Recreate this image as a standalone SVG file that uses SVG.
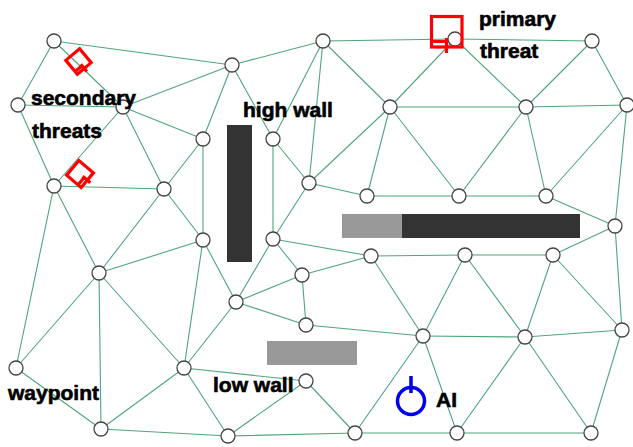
<svg xmlns="http://www.w3.org/2000/svg" width="633" height="447" viewBox="0 0 633 447">
  <style>
    .edge { stroke: #4fa67c; stroke-width: 1.1; fill: none; stroke-linecap: round; }
    .node circle { fill: #ffffff; stroke: #444444; stroke-width: 1.3; }
    .label { font-family: "Liberation Sans", Arial, sans-serif; font-weight: bold; font-size: 21px; fill: #000000; stroke: #000000; stroke-width: 0.6; }
    .high { fill: #333333; }
    .low { fill: #999999; }
    .threat { fill: none; stroke: #ff0000; stroke-width: 3.2; }
    .agent { fill: none; stroke: #0000ee; stroke-width: 3.5; }
  </style>

  <rect x="0" y="0" width="633" height="447" fill="#ffffff"/>

  <!-- navigation mesh links -->
  <g id="connectors" class="edge">
    <line x1="54" y1="41" x2="18" y2="105"/>
    <line x1="54" y1="41" x2="123" y2="107"/>
    <line x1="54" y1="41" x2="232" y2="65"/>
    <line x1="18" y1="105" x2="123" y2="107"/>
    <line x1="18" y1="105" x2="54" y2="186"/>
    <line x1="123" y1="107" x2="232" y2="65"/>
    <line x1="123" y1="107" x2="203" y2="139"/>
    <line x1="123" y1="107" x2="54" y2="186"/>
    <line x1="123" y1="107" x2="164" y2="189"/>
    <line x1="54" y1="186" x2="164" y2="189"/>
    <line x1="54" y1="186" x2="16" y2="368"/>
    <line x1="54" y1="186" x2="99" y2="273"/>
    <line x1="164" y1="189" x2="203" y2="139"/>
    <line x1="164" y1="189" x2="99" y2="273"/>
    <line x1="164" y1="189" x2="203" y2="240"/>
    <line x1="203" y1="139" x2="232" y2="65"/>
    <line x1="203" y1="139" x2="203" y2="240"/>
    <line x1="232" y1="65" x2="323" y2="41"/>
    <line x1="232" y1="65" x2="273" y2="139"/>
    <line x1="323" y1="41" x2="273" y2="139"/>
    <line x1="323" y1="41" x2="309" y2="183"/>
    <line x1="323" y1="41" x2="390" y2="107"/>
    <line x1="323" y1="41" x2="455" y2="39"/>
    <line x1="455" y1="39" x2="390" y2="107"/>
    <line x1="455" y1="39" x2="592" y2="41"/>
    <line x1="455" y1="39" x2="526" y2="107"/>
    <line x1="592" y1="41" x2="526" y2="107"/>
    <line x1="592" y1="41" x2="627" y2="105"/>
    <line x1="390" y1="107" x2="526" y2="107"/>
    <line x1="390" y1="107" x2="309" y2="183"/>
    <line x1="390" y1="107" x2="367" y2="196"/>
    <line x1="390" y1="107" x2="459" y2="196"/>
    <line x1="526" y1="107" x2="627" y2="105"/>
    <line x1="526" y1="107" x2="459" y2="196"/>
    <line x1="526" y1="107" x2="546" y2="196"/>
    <line x1="627" y1="105" x2="546" y2="196"/>
    <line x1="627" y1="105" x2="615" y2="226"/>
    <line x1="273" y1="139" x2="309" y2="183"/>
    <line x1="273" y1="139" x2="273" y2="239"/>
    <line x1="309" y1="183" x2="367" y2="196"/>
    <line x1="309" y1="183" x2="273" y2="239"/>
    <line x1="367" y1="196" x2="459" y2="196"/>
    <line x1="459" y1="196" x2="546" y2="196"/>
    <line x1="546" y1="196" x2="615" y2="226"/>
    <line x1="615" y1="226" x2="553" y2="255"/>
    <line x1="615" y1="226" x2="622" y2="330"/>
    <line x1="203" y1="240" x2="236" y2="302"/>
    <line x1="203" y1="240" x2="99" y2="273"/>
    <line x1="203" y1="240" x2="184" y2="368"/>
    <line x1="273" y1="239" x2="236" y2="302"/>
    <line x1="273" y1="239" x2="371" y2="256"/>
    <line x1="273" y1="239" x2="302" y2="275"/>
    <line x1="371" y1="256" x2="302" y2="275"/>
    <line x1="371" y1="256" x2="423" y2="336"/>
    <line x1="371" y1="256" x2="465" y2="255"/>
    <line x1="465" y1="255" x2="553" y2="255"/>
    <line x1="465" y1="255" x2="423" y2="336"/>
    <line x1="465" y1="255" x2="525" y2="337"/>
    <line x1="553" y1="255" x2="525" y2="337"/>
    <line x1="553" y1="255" x2="622" y2="330"/>
    <line x1="302" y1="275" x2="236" y2="302"/>
    <line x1="302" y1="275" x2="306" y2="325"/>
    <line x1="99" y1="273" x2="16" y2="368"/>
    <line x1="99" y1="273" x2="184" y2="368"/>
    <line x1="99" y1="273" x2="101" y2="429"/>
    <line x1="236" y1="302" x2="306" y2="325"/>
    <line x1="236" y1="302" x2="184" y2="368"/>
    <line x1="306" y1="325" x2="423" y2="336"/>
    <line x1="16" y1="368" x2="101" y2="429"/>
    <line x1="184" y1="368" x2="101" y2="429"/>
    <line x1="184" y1="368" x2="306" y2="381"/>
    <line x1="184" y1="368" x2="228" y2="436"/>
    <line x1="423" y1="336" x2="525" y2="337"/>
    <line x1="423" y1="336" x2="457" y2="433"/>
    <line x1="423" y1="336" x2="355" y2="433"/>
    <line x1="525" y1="337" x2="622" y2="330"/>
    <line x1="525" y1="337" x2="457" y2="433"/>
    <line x1="525" y1="337" x2="591" y2="433"/>
    <line x1="622" y1="330" x2="591" y2="433"/>
    <line x1="306" y1="381" x2="228" y2="436"/>
    <line x1="306" y1="381" x2="355" y2="433"/>
    <line x1="101" y1="429" x2="228" y2="436"/>
    <line x1="228" y1="436" x2="355" y2="433"/>
    <line x1="355" y1="433" x2="457" y2="433"/>
    <line x1="457" y1="433" x2="591" y2="433"/>
  </g>

  <!-- walls -->
  <g id="high-wall-vertical"><rect class="high" x="227" y="125" width="25" height="137"/></g>
  <g id="long-wall">
    <rect class="low" x="342" y="214" width="60" height="24"/>
    <rect class="high" x="402" y="214" width="178" height="24"/>
  </g>
  <g id="low-wall"><rect class="low" x="267" y="341" width="90" height="24"/></g>

  <!-- waypoints -->
  <g id="n-a" class="node"><circle cx="54" cy="41" r="7"/></g>
  <g id="n-b" class="node"><circle cx="18" cy="105" r="7"/></g>
  <g id="n-c" class="node"><circle cx="123" cy="107" r="7"/></g>
  <g id="n-d" class="node"><circle cx="54" cy="186" r="7"/></g>
  <g id="n-e" class="node"><circle cx="164" cy="189" r="7"/></g>
  <g id="n-f" class="node"><circle cx="203" cy="139" r="7"/></g>
  <g id="n-g" class="node"><circle cx="232" cy="65" r="7"/></g>
  <g id="n-h" class="node"><circle cx="323" cy="41" r="7"/></g>
  <g id="n-i" class="node"><circle cx="455" cy="39" r="7"/></g>
  <g id="n-j" class="node"><circle cx="592" cy="41" r="7"/></g>
  <g id="n-k" class="node"><circle cx="390" cy="107" r="7"/></g>
  <g id="n-l" class="node"><circle cx="526" cy="107" r="7"/></g>
  <g id="n-m" class="node"><circle cx="627" cy="105" r="7"/></g>
  <g id="n-n" class="node"><circle cx="273" cy="139" r="7"/></g>
  <g id="n-o" class="node"><circle cx="309" cy="183" r="7"/></g>
  <g id="n-p" class="node"><circle cx="367" cy="196" r="7"/></g>
  <g id="n-q" class="node"><circle cx="459" cy="196" r="7"/></g>
  <g id="n-r" class="node"><circle cx="546" cy="196" r="7"/></g>
  <g id="n-s" class="node"><circle cx="615" cy="226" r="7"/></g>
  <g id="n-t" class="node"><circle cx="203" cy="240" r="7"/></g>
  <g id="n-u" class="node"><circle cx="273" cy="239" r="7"/></g>
  <g id="n-v" class="node"><circle cx="371" cy="256" r="7"/></g>
  <g id="n-w" class="node"><circle cx="465" cy="255" r="7"/></g>
  <g id="n-x" class="node"><circle cx="553" cy="255" r="7"/></g>
  <g id="n-y" class="node"><circle cx="302" cy="275" r="7"/></g>
  <g id="n-z" class="node"><circle cx="99" cy="273" r="7"/></g>
  <g id="n-aa" class="node"><circle cx="236" cy="302" r="7"/></g>
  <g id="n-ab" class="node"><circle cx="306" cy="325" r="7"/></g>
  <g id="n-ac" class="node"><circle cx="16" cy="368" r="7"/></g>
  <g id="n-ad" class="node"><circle cx="184" cy="368" r="7"/></g>
  <g id="n-ae" class="node"><circle cx="423" cy="336" r="7"/></g>
  <g id="n-af" class="node"><circle cx="525" cy="337" r="7"/></g>
  <g id="n-ag" class="node"><circle cx="622" cy="330" r="7"/></g>
  <g id="n-ah" class="node"><circle cx="306" cy="381" r="7"/></g>
  <g id="n-ai" class="node"><circle cx="101" cy="429" r="7"/></g>
  <g id="n-aj" class="node"><circle cx="228" cy="436" r="7"/></g>
  <g id="n-ak" class="node"><circle cx="355" cy="433" r="7"/></g>
  <g id="n-al" class="node"><circle cx="457" cy="433" r="7"/></g>
  <g id="n-am" class="node"><circle cx="591" cy="433" r="7"/></g>

  <!-- threats -->
  <g id="primary-threat" class="threat">
    <rect x="431.5" y="16.5" width="30.5" height="30.5"/>
    <path d="M431.5,41.5 H446.5 M446.5,38 V53"/>
  </g>
  <g id="secondary-threat-1" class="threat" transform="translate(78.5,61.5) rotate(-40)">
    <rect x="-9" y="-9" width="18" height="18"/>
    <path d="M-9,5.5 H0 M0,3.5 V13"/>
  </g>
  <g id="secondary-threat-2" class="threat" transform="translate(80,174) rotate(-50)">
    <rect x="-9.5" y="-9.5" width="19" height="19"/>
    <path d="M-9.5,5.5 H0 M0,3.5 V13.5"/>
  </g>

  <!-- agent -->
  <g id="ai-agent" class="agent">
    <circle cx="411" cy="401" r="13.5"/>
    <line x1="411" y1="376" x2="411" y2="393"/>
  </g>

  <!-- labels -->
  <g id="labels" class="label">
    <text x="31" y="105">secondary</text>
    <text x="32" y="138">threats</text>
    <text x="243" y="117">high wall</text>
    <text x="479" y="26">primary</text>
    <text x="480" y="58">threat</text>
    <text x="8" y="400">waypoint</text>
    <text x="213" y="392">low wall</text>
    <text x="436" y="407">AI</text>
  </g>
</svg>
